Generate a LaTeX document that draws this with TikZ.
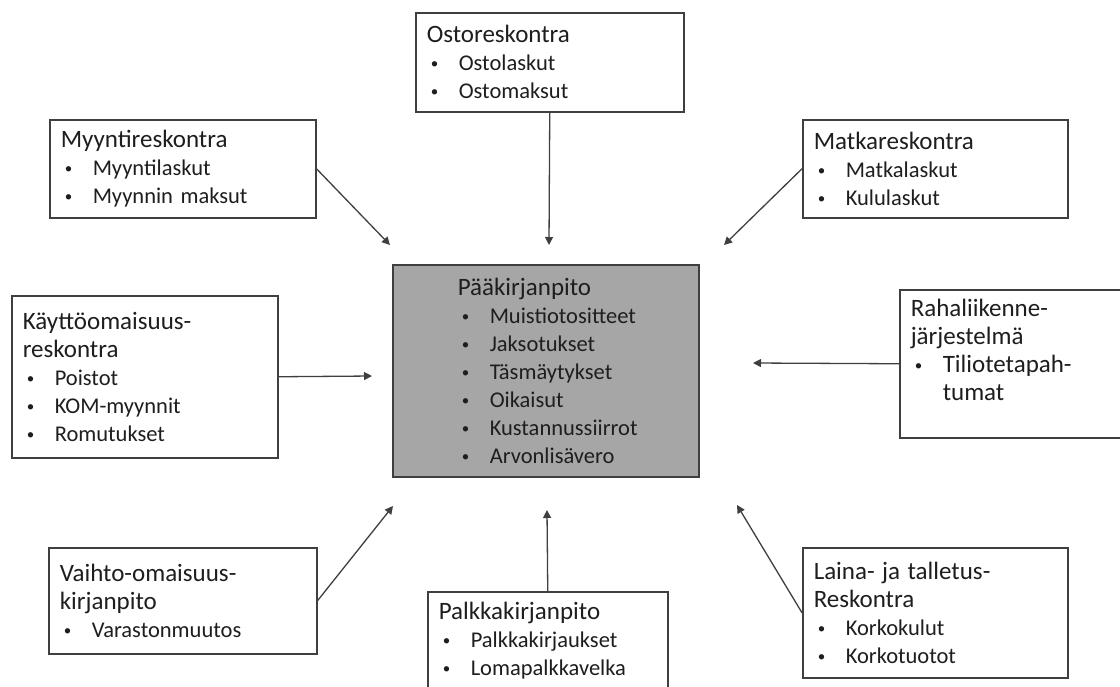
\documentclass[tikz,border=0pt]{standalone}
\usepackage{fontspec}
\setmainfont{Carlito}
\usepackage{tikz}
\usetikzlibrary{arrows.meta}
\definecolor{boxline}{HTML}{3F3F3F}
\definecolor{maingray}{HTML}{A6A6A6}
\definecolor{inkgray}{HTML}{1E1E1E}
\newcommand{\titlefont}{\fontsize{12.5}{14}\selectfont}
\newcommand{\itemfont}{\fontsize{11.25}{14}\selectfont}
\newcommand{\bul}{\hspace*{2pt}\makebox[14pt][l]{\raisebox{1.1pt}{\fontsize{7.5}{8}\selectfont\textbullet}}}
\hyphenpenalty=10000
\exhyphenpenalty=10000

\begin{document}
\begin{tikzpicture}[x=0.5pt, y=-0.5pt,
    box/.style={draw=boxline, line width=0.75pt, fill=white, anchor=north west, align=left,
        inner xsep=5.5pt, inner ysep=0pt, font=\itemfont, text=inkgray},
    flow/.style={draw=boxline, line width=0.65pt, -{Triangle[length=4pt, width=4pt]}}]
    \useasboundingbox (0,0) rectangle (1120,686);
    \clip (0,0) rectangle (1120,686);

    % Central ledger
    \node[box, fill=maingray, inner xsep=32.5pt, text width=88pt, minimum height=106pt] (paa) at (392,264)
        {{\titlefont Pääkirjanpito}\\ \bul Muistiotositteet\\ \bul Jaksotukset\\ \bul Täsmäytykset\\
         \bul Oikaisut\\ \bul Kustannussiirrot\\ \bul Arvonlisävero};

    % Sub-ledgers around it
    \node[box, text width=123pt, minimum height=49.5pt] (osto) at (415,12)
        {{\titlefont Ostoreskontra}\\ \bul Ostolaskut\\ \bul Ostomaksut};
    \node[box, text width=122pt, minimum height=49pt] (myynti) at (49,119)
        {{\titlefont Myyntireskontra}\\ \bul Myyntilaskut\\ \bul Myynnin maksut};
    \node[box, text width=121.5pt, minimum height=49pt] (matka) at (802,119)
        {{\titlefont Matkareskontra}\\ \bul Matkalaskut\\ \bul Kululaskut};
    \node[box, text width=122pt, minimum height=81pt] (kaytto) at (11,295)
        {{\titlefont Käyttöomaisuus-\\ reskontra}\\ \bul Poistot\\ \bul KOM-myynnit\\ \bul Romutukset};
    \node[box, font=\titlefont, text width=102pt, minimum height=74pt] (raha) at (899,289)
        {Rahaliikenne-\\ järjestelmä\\ \bul Tiliotetapah-\\ \hspace*{16pt}tumat\\ \mbox{}};
    \node[box, text width=123pt, minimum height=53pt] (vaihto) at (48,547)
        {{\titlefont Vaihto-omaisuus-\\ kirjanpito}\\ \bul Varastonmuutos};
    \node[box, text width=109pt, minimum height=61pt] (palkka) at (427,591)
        {{\titlefont Palkkakirjanpito}\\ \bul Palkkakirjaukset\\ \bul Lomapalkkavelka\\ \mbox{}};
    \node[box, text width=121.5pt, minimum height=65pt] (laina) at (802,547)
        {{\titlefont Laina- ja talletus-\\ Reskontra}\\ \bul Korkokulut\\ \bul Korkotuotot};

    % Arrow tips stop short of the central box
    \coordinate (tipN) at (549,245);
    \coordinate (tipNW) at (390,245);
    \coordinate (tipNE) at (724,245);
    \coordinate (tipW) at (372,376);
    \coordinate (tipE) at (753,363);
    \coordinate (tipSW) at (393,506);
    \coordinate (tipSE) at (737,505);
    \coordinate (tipS) at (547,510);

    \foreach \src/\tip in {osto.south/tipN, myynti.east/tipNW, matka.west/tipNE, kaytto.east/tipW,
                           raha.west/tipE, vaihto.east/tipSW, laina.west/tipSE, palkka.north/tipS}
        \draw[flow] (\src) -- (\tip);
\end{tikzpicture}
\end{document}
